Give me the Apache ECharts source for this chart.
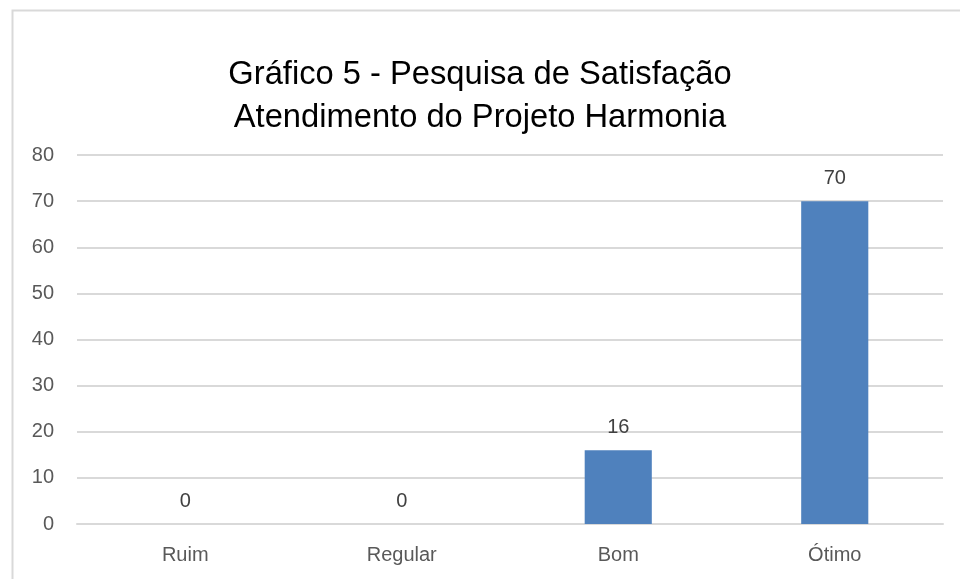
<!DOCTYPE html>
<html>
<head>
<meta charset="utf-8">
<script src="https://cdn.jsdelivr.net/npm/echarts@6/dist/echarts.min.js"></script>
<style>
  html, body { margin: 0; padding: 0; background: #fff; }
  #main { width: 960px; height: 579px; }
</style>
</head>
<body>
<div id="main"></div>
<script>
var categories = ['Ruim', 'Regular', 'Bom', 'Ótimo'];
var values = [0, 0, 16, 70];
var titleLines = ['Gráfico 5 - Pesquisa de Satisfação', 'Atendimento do Projeto Harmonia'];

var myChart = echarts.init(document.getElementById('main'));
var font = 'Liberation Sans';

myChart.setOption({
  animation: false,
  title: {
    text: titleLines.join('\n'),
    left: 'center',
    top: 48,
    textStyle: {
      fontFamily: font,
      fontWeight: 'normal',
      fontSize: 32.7,
      lineHeight: 43,
      color: '#000'
    }
  },
  graphic: [{
    type: 'rect',
    shape: { x: 12.5, y: 10.5, width: 1000, height: 700 },
    style: { fill: 'none', stroke: '#d9d9d9', lineWidth: 2 }
  }],
  grid: { left: 77, right: 17, top: 155, bottom: 55 },
  xAxis: {
    type: 'category',
    data: categories,
    axisLine: { lineStyle: { color: '#d9d9d9', width: 2 } },
    axisTick: { show: false },
    axisLabel: { fontFamily: font, fontSize: 20, color: '#595959', margin: 21 }
  },
  yAxis: {
    type: 'value',
    min: 0,
    max: 80,
    interval: 10,
    axisLine: { show: false },
    axisTick: { show: false },
    splitLine: { lineStyle: { color: '#d9d9d9', width: 2 } },
    axisLabel: { fontFamily: font, fontSize: 20, color: '#595959', margin: 23 }
  },
  series: [{
    type: 'bar',
    data: values,
    barWidth: '31%',
    itemStyle: { color: '#4f81bd' },
    label: {
      show: true,
      position: 'top',
      distance: 13,
      fontFamily: font,
      fontSize: 20,
      color: '#404040'
    }
  }]
});
</script>
</body>
</html>
